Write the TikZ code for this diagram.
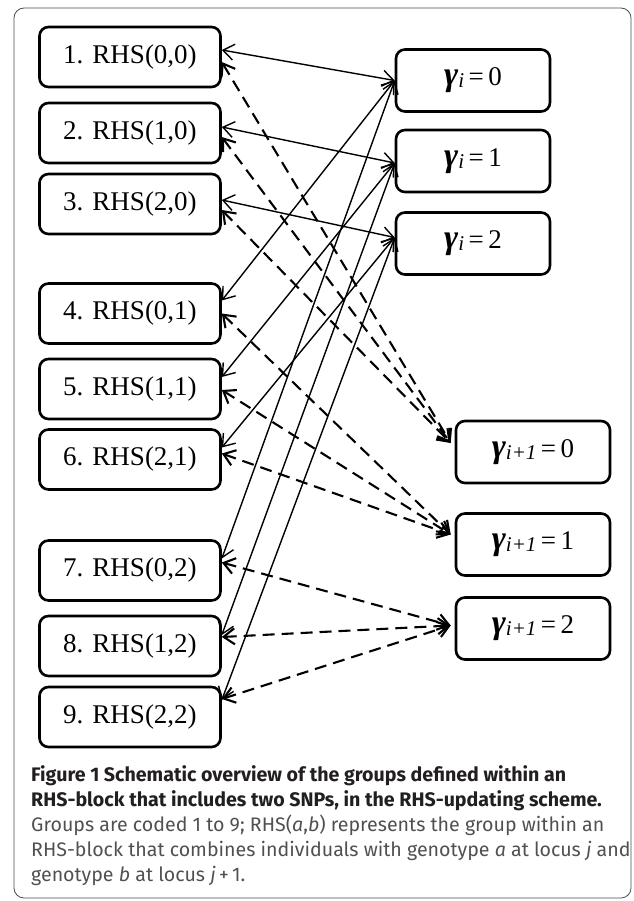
\documentclass[tikz,border=0pt]{standalone}
\usepackage{fontspec}
\setmainfont{Liberation Serif}
\newfontfamily\capfont{Fira Sans}
\usetikzlibrary{positioning,arrows.meta}
\definecolor{capdark}{HTML}{231F20}
\definecolor{capgray}{HTML}{505050}
\tikzset{
	rhsbox/.style={draw, line width=2.6pt, rounded corners=9pt, minimum width=181pt,
		minimum height=60pt, inner sep=0pt, font=\fontsize{27}{32}\selectfont},
	gambox/.style={rhsbox, minimum width=154pt, minimum height=62pt},
	link/.style={line width=1.4pt,
		{Straight Barb[length=11pt,width=16pt]}-{Straight Barb[length=11pt,width=16pt]}},
	dlink/.style={link, line width=2.1pt, dash pattern=on 12pt off 7pt},
	caption/.style={align=left, inner sep=0pt, text=capgray,
		font=\capfont\fontsize{19.6}{25}\selectfont}
}
\newcommand{\gam}[2]{{\fontsize{34}{34}\selectfont\bfseries\itshape γ}%
	\raisebox{-2pt}{\fontsize{21}{21}\selectfont\itshape #1}\,=\,#2}

\begin{document}
\begin{tikzpicture}[x=1pt, y=-1pt]
	\useasboundingbox (0,0) rectangle (633,901);
	\draw[line width=0.8pt, draw=black!70, rounded corners=10pt] (14,8) rectangle (631,898);

	% groups of the RHS-block
	\node[rhsbox] (b1) at (130,57)    {1. RHS(0,0)};
	\node[rhsbox] (b2) at (130,133)   {2. RHS(1,0)};
	\node[rhsbox] (b3) at (130,204)   {3. RHS(2,0)};
	\node[rhsbox] (b4) at (130,313.5) {4. RHS(0,1)};
	\node[rhsbox] (b5) at (130,389)   {5. RHS(1,1)};
	\node[rhsbox] (b6) at (130,459.5) {6. RHS(2,1)};
	\node[rhsbox] (b7) at (130,570.5) {7. RHS(0,2)};
	\node[rhsbox] (b8) at (130,646)   {8. RHS(1,2)};
	\node[rhsbox] (b9) at (130,717)   {9. RHS(2,2)};

	% genotypes at locus i and i+1
	\node[gambox] (g0) at (473,80.5)  {\gam{i}{0}};
	\node[gambox] (g1) at (473,161)   {\gam{i}{1}};
	\node[gambox] (g2) at (473,243.5) {\gam{i}{2}};
	\node[gambox] (h0) at (533,452)   {\gam{i+1}{0}};
	\node[gambox] (h1) at (533,544.5) {\gam{i+1}{1}};
	\node[gambox] (h2) at (533,628.5) {\gam{i+1}{2}};

	\draw[link] ([yshift=7pt]b1.east)  -- (g0.west);
	\draw[link] ([yshift=6pt]b2.east)  -- ([yshift=-2pt]g1.west);
	\draw[link] ([yshift=4pt]b3.east)  -- ([yshift=6pt]g2.west);
	\draw[link] ([yshift=13pt]b4.east) -- (g0.west);
	\draw[link] ([yshift=12pt]b5.east) -- ([yshift=-2pt]g1.west);
	\draw[link] ([yshift=12pt]b6.east) -- ([yshift=6pt]g2.west);
	\draw[link] ([yshift=12pt]b7.east) -- (g0.west);
	\draw[link] ([yshift=11pt]b8.east) -- ([yshift=-2pt]g1.west);
	\draw[link] ([yshift=17pt]b9.east) -- ([yshift=6pt]g2.west);

	\draw[dlink] ([yshift=-5pt]b1.east) -- ([xshift=-4pt,yshift=9pt]h0.west);
	\draw[dlink] ([yshift=-4pt]b2.east) -- ([xshift=-4pt,yshift=9pt]h0.west);
	\draw[dlink] ([yshift=-6pt]b3.east) -- ([xshift=-4pt,yshift=9pt]h0.west);
	\draw[dlink] (b4.east)              -- ([xshift=-4pt,yshift=10pt]h1.west);
	\draw[dlink] ([yshift=-1pt]b5.east) -- ([xshift=-4pt,yshift=10pt]h1.west);
	\draw[dlink] ([yshift=6pt]b6.east)  -- ([xshift=-4pt,yshift=10pt]h1.west);
	\draw[dlink] ([yshift=8pt]b7.east)  -- ([xshift=-4pt,yshift=3pt]h2.west);
	\draw[dlink] ([yshift=9pt]b8.east)  -- ([xshift=-4pt,yshift=3pt]h2.west);
	\draw[dlink] ([yshift=18pt]b9.east) -- ([xshift=-4pt,yshift=3pt]h2.west);

	\node[caption, anchor=north west] (cap) at (31,765)
		{{\color{capdark}\bfseries Figure 1 Schematic overview of the groups defined within an}\\
		 {\color{capdark}\bfseries RHS-block that includes two SNPs, in the RHS-updating scheme.}\\
		 Groups are coded 1 to 9; RHS(\textit{a},\textit{b}) represents the group within an\\
		 RHS-block that combines individuals with genotype \textit{a} at locus \textit{j} and\\
		 genotype \textit{b} at locus \textit{j}\,+\,1.};
\end{tikzpicture}
\end{document}
